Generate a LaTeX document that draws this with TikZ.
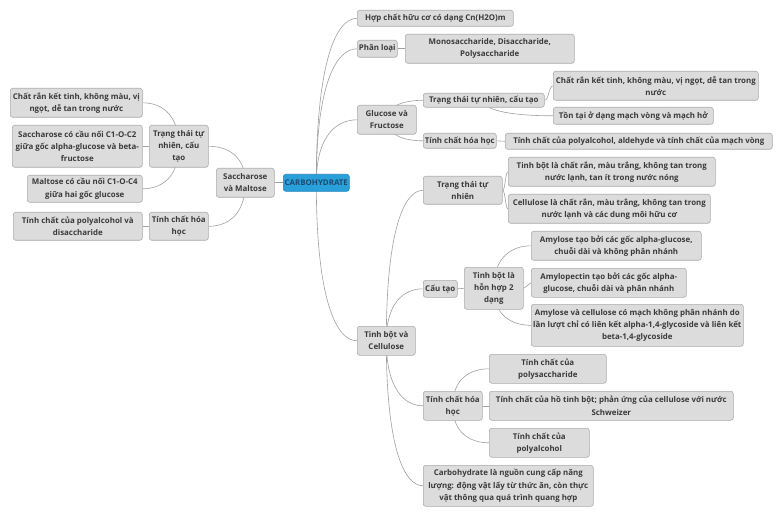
\documentclass[tikz,border=0pt]{standalone}
\usepackage{fontspec}
\setmainfont{Open Sans}
\usetikzlibrary{calc}
\pgfdeclarelayer{bg}
\pgfsetlayers{bg,main}
\definecolor{boxfill}{HTML}{DCDCDC}
\definecolor{boxline}{HTML}{ABABAB}
\definecolor{txt}{HTML}{3A3A3A}
\definecolor{rootfill}{HTML}{2AA0DA}
\definecolor{rootline}{HTML}{1F86BD}
\definecolor{roottxt}{HTML}{1B4A70}
\definecolor{edgecol}{HTML}{A0A0A0}
\tikzset{
  box/.style={draw=boxline, fill=boxfill, rounded corners=2.5pt, line width=0.6pt,
    inner sep=1pt, align=center, anchor=north west, text=txt,
    font=\fontsize{7.9}{12.2}\selectfont\bfseries},
  rootbox/.style={box, draw=rootline, fill=rootfill, text=roottxt},
  edge/.style={draw=edgecol, line width=0.6pt},
}
\newcommand{\nd}[7][box]{\node[#1, minimum width=#5pt, minimum height=#6pt] (#2) at (#3,#4) {#7};}
\newcommand{\vc}[2]{\draw[edge] (#1.center) .. controls ($(#1.center)!0.75!(#1.center|-#2.west)$) and ($(#2.west)!0.5!(#1.center|-#2.west)$) .. (#2.west);}
\newcommand{\vcl}[2]{\draw[edge] (#1.center) .. controls ($(#1.center)!0.75!(#1.center|-#2.east)$) and ($(#2.east)!0.5!(#1.center|-#2.east)$) .. (#2.east);}
\newcommand{\hs}[2]{\draw[edge] (#1.east) .. controls ($(#1.east)!0.5!(#2.west|-#1.east)$) and ($(#2.west)!0.5!(#1.east|-#2.west)$) .. (#2.west);}
\newcommand{\st}[2]{\draw[edge] (#1.east) -- (#2.west);}
\newcommand{\stl}[2]{\draw[edge] (#1.west) -- (#2.east);}
\begin{document}
\begin{tikzpicture}[x=1pt,y=-1pt]
\begin{pgfonlayer}{bg}
\path[use as bounding box, fill=white] (0,0) rectangle (780,516);
\end{pgfonlayer}
% root
\nd[rootbox]{root}{283}{174}{66}{17}{CARBOHYDRATE}
% left side
\nd{SM}{216}{168}{58}{29}{Saccharose\\và Maltose}
\nd{LA}{149}{125}{59}{42}{Trạng thái tự\\nhiên, cấu\\tạo}
\nd{LB}{149}{212}{59}{28}{Tính chất hóa\\học}
\nd{LA1}{10}{88}{132}{29}{Chất rắn kết tinh, không màu, vị\\ngọt, dễ tan trong nước}
\nd{LA2}{12}{125}{130}{42}{Saccharose có cầu nối C1-O-C2\\giữa gốc alpha-glucose và beta-\\fructose}
\nd{LA3}{27}{175}{115}{27}{Maltose có cầu nối C1-O-C4\\giữa hai gốc glucose}
\nd{LB1}{13}{212}{129}{28}{Tính chất của polyalcohol và\\disaccharide}
% right side
\nd{R1}{357}{10}{156}{16}{Hợp chất hữu cơ có dạng Cn(H2O)m}
\nd{R2}{357}{40}{40}{17}{Phân loại}
\nd{R2a}{405}{34}{169}{29}{Monosaccharide, Disaccharide,\\Polysaccharide}
\nd{R3}{357}{105}{59}{29}{Glucose và\\Fructose}
\nd{R3a}{423}{93}{121}{14}{Trạng thái tự nhiên, cấu tạo}
\nd{R3a1}{553}{71}{205}{29}{Chất rắn kết tinh, không màu, vị ngọt, dễ tan trong\\nước}
\nd{R3a2}{553}{107}{160}{17}{Tồn tại ở dạng mạch vòng và mạch hở}
\nd{R3b}{423}{133}{73}{15}{Tính chất hóa học}
\nd{R3b1}{505}{133}{267}{16}{Tính chất của polyalcohol, aldehyde và tính chất của mạch vòng}
\nd{R4}{357}{326}{58}{29}{Tinh bột và\\Cellulose}
\nd{R4a}{423}{176}{79}{28}{Trạng thái tự\\nhiên}
\nd{R4a1}{508}{157}{207}{29}{Tinh bột là chất rắn, màu trắng, không tan trong\\nước lạnh, tan ít trong nước nóng}
\nd{R4a2}{508}{194}{202}{29}{Cellulose là chất rắn, màu trắng, không tan trong\\nước lạnh và các dung môi hữu cơ}
\nd{R4b}{423}{280}{34}{17}{Cấu tạo}
\nd{R4b1}{464}{267}{59}{42}{Tinh bột là\\hỗn hợp 2\\dạng}
\nd{R4b1a}{531}{231}{170}{29}{Amylose tạo bởi các gốc alpha-glucose,\\chuỗi dài và không phân nhánh}
\nd{R4b1b}{531}{268}{155}{29}{Amylopectin tạo bởi các gốc alpha-\\glucose, chuỗi dài và phân nhánh}
\nd{R4b1c}{531}{304}{212}{42}{Amylose và cellulose có mạch không phân nhánh do\\lần lượt chỉ có liên kết alpha-1,4-glycoside và liên kết\\beta-1,4-glycoside}
\nd{R4c}{423}{391}{59}{29}{Tính chất hóa\\học}
\nd{R4c1}{489}{354}{117}{29}{Tính chất của\\polysaccharide}
\nd{R4c2}{489}{391}{244}{29}{Tính chất của hồ tinh bột; phản ứng của cellulose với nước\\Schweizer}
\nd{R4c3}{489}{428}{100}{29}{Tính chất của\\polyalcohol}
\nd{R4d}{423}{465}{170}{41}{Carbohydrate là nguồn cung cấp năng\\lượng: động vật lấy từ thức ăn, còn thực\\vật thông qua quá trình quang hợp}
% edges
\begin{pgfonlayer}{bg}
\stl{root}{SM}
\vcl{SM}{LA}
\vcl{SM}{LB}
\vcl{LA}{LA1}
\stl{LA}{LA2}
\vcl{LA}{LA3}
\stl{LB}{LB1}
\vc{root}{R1}
\vc{root}{R2}
\vc{root}{R3}
\vc{root}{R4}
\st{R2}{R2a}
\vc{R3}{R3a}
\vc{R3}{R3b}
\hs{R3a}{R3a1}
\vc{R3a}{R3a2}
\st{R3b}{R3b1}
\vc{R4}{R4a}
\vc{R4}{R4b}
\vc{R4}{R4c}
\vc{R4}{R4d}
\hs{R4a}{R4a1}
\hs{R4a}{R4a2}
\st{R4b}{R4b1}
\vc{R4b1}{R4b1a}
\st{R4b1}{R4b1b}
\vc{R4b1}{R4b1c}
\vc{R4c}{R4c1}
\st{R4c}{R4c2}
\vc{R4c}{R4c3}
\end{pgfonlayer}
\end{tikzpicture}
\end{document}
